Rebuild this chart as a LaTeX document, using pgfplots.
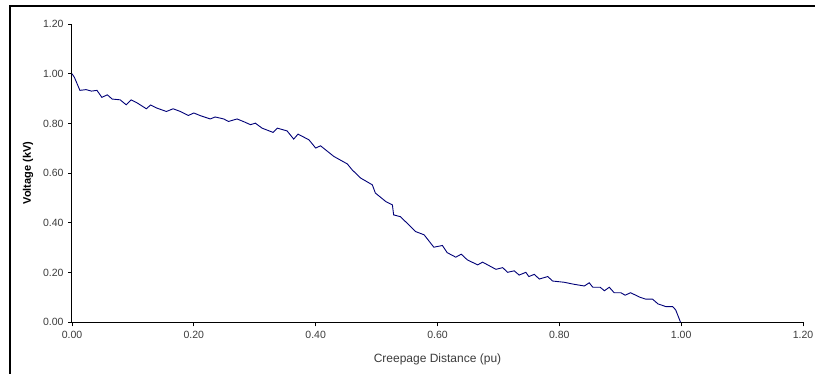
\documentclass[border=0pt]{standalone}
\usepackage{pgfplots}
\pgfplotsset{compat=1.18}
\usepackage{fontspec}
\setmainfont{Liberation Sans}
\definecolor{linenavy}{RGB}{0,0,120}
\definecolor{tickgray}{RGB}{60,60,60}
\begin{document}
\begin{tikzpicture}
\useasboundingbox (0,0) rectangle (815pt,374pt);
\fill[white] (0,0) rectangle (815pt,374pt);
\draw[line width=1.2pt] (10pt,0) -- (10pt,368pt) -- (815pt,368pt);
\begin{axis}[
  at={(72pt,51.7pt)}, anchor=south west,
  scale only axis, width=731pt, height=298.3pt,
  xmin=0, xmax=1.2, ymin=0, ymax=1.2,
  axis x line*=bottom, axis y line*=left,
  axis line style={-, line width=1pt, black},
  xtick={0,0.2,0.4,0.6,0.8,1.0,1.2},
  ytick={0,0.2,0.4,0.6,0.8,1.0,1.2},
  tick align=outside, major tick length=4pt,
  tick style={black, line width=0.8pt},
  /pgf/number format/.cd, fixed, fixed zerofill, precision=2, assume math mode=true,
  /pgfplots/.cd,
  ticklabel style={font=\fontsize{10.5}{11}\selectfont, text=tickgray},
  xticklabel style={yshift=-1pt},
  yticklabel style={xshift=-1pt},
  xlabel={Creepage Distance (pu)},
  ylabel={\bfseries Voltage (kV)},
  every axis x label/.style={at={(axis description cs:0.5,-0.124)}, anchor=center, font=\fontsize{12}{13}\selectfont, text=tickgray},
  every axis y label/.style={at={(axis description cs:-0.0602,0.5)}, anchor=center, rotate=90, font=\fontsize{11}{12}\selectfont},
  clip=false,
]
\addplot[linenavy, line width=0.9pt, mark=none] coordinates {
(0,1.000) (0.004,0.985) (0.013,0.933) (0.023,0.936) (0.032,0.930) (0.041,0.933)
(0.049,0.905) (0.058,0.915) (0.066,0.898) (0.079,0.895) (0.089,0.875) (0.097,0.895)
(0.106,0.884) (0.122,0.859) (0.129,0.874) (0.139,0.862) (0.155,0.848) (0.166,0.859)
(0.178,0.848) (0.191,0.832) (0.200,0.842) (0.211,0.831) (0.227,0.818) (0.235,0.826)
(0.249,0.818) (0.257,0.808) (0.271,0.818) (0.282,0.807) (0.293,0.795) (0.301,0.801)
(0.312,0.781) (0.330,0.764) (0.337,0.781) (0.353,0.770) (0.364,0.737) (0.371,0.757)
(0.389,0.734) (0.400,0.701) (0.408,0.710) (0.430,0.667) (0.452,0.637) (0.460,0.613)
(0.474,0.580) (0.493,0.553) (0.498,0.520) (0.515,0.486) (0.526,0.472) (0.528,0.432)
(0.539,0.425) (0.550,0.399) (0.564,0.365) (0.578,0.352) (0.594,0.302) (0.608,0.309)
(0.616,0.280) (0.630,0.262) (0.639,0.274) (0.649,0.251) (0.666,0.231) (0.674,0.242)
(0.696,0.213) (0.707,0.220) (0.715,0.201) (0.726,0.207) (0.734,0.190) (0.745,0.201)
(0.750,0.184) (0.759,0.193) (0.767,0.174) (0.781,0.184) (0.789,0.166) (0.808,0.161)
(0.824,0.153) (0.841,0.146) (0.849,0.159) (0.855,0.141) (0.867,0.141) (0.874,0.127)
(0.882,0.141) (0.890,0.119) (0.901,0.119) (0.908,0.109) (0.917,0.119) (0.932,0.101)
(0.942,0.093) (0.953,0.093) (0.962,0.074) (0.975,0.063) (0.986,0.063) (0.991,0.050)
(0.999,0.000)
};
\end{axis}
\end{tikzpicture}
\end{document}
